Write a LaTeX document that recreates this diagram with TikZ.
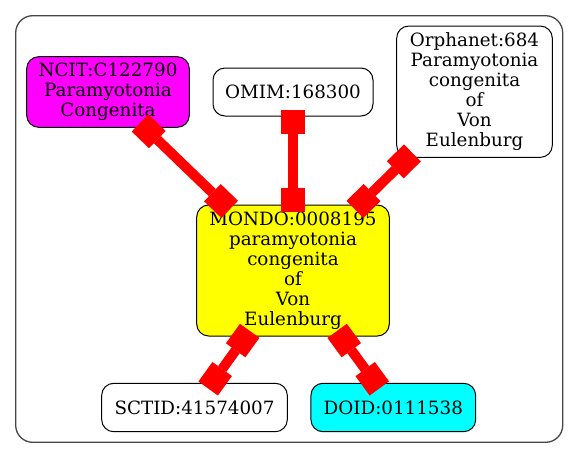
\documentclass[tikz,border=0pt]{standalone}
\usepackage{fontspec}
\setmainfont{DejaVu Serif}
\usetikzlibrary{arrows.meta}
\definecolor{pmagenta}{RGB}{255,0,255}
\definecolor{pcyan}{RGB}{0,255,255}
\definecolor{pyellow}{RGB}{255,255,0}
\definecolor{pred}{RGB}{255,0,0}
\definecolor{pgrey}{RGB}{70,70,70}
\tikzset{
  termbox/.style={draw=black, line width=1pt, rounded corners=12pt, inner sep=0pt,
    align=center, font=\fontsize{18.3}{20}\selectfont},
  linkedge/.style={draw=pred, line width=10pt,
    {Square[length=24pt,width=24pt,line width=0pt]}-{Square[length=24pt,width=24pt,line width=0pt]},
    shorten <=-7pt, shorten >=-7pt},
  clusterbox/.style={draw=pgrey, line width=1.3pt, rounded corners=17pt}
}
\begin{document}
\begin{tikzpicture}[x=1pt,y=-1pt]
\useasboundingbox (0,0) rectangle (579,459);
\draw[clusterbox] (15.7,15.7) rectangle (562.7,442.3);
\node[termbox, fill=pmagenta, minimum width=162.6pt, minimum height=70.6pt] (ncit) at (108,92) {NCIT:C122790\\Paramyotonia\\Congenita};
\node[termbox, fill=white, minimum width=160pt, minimum height=48pt] (omim) at (293,92) {OMIM:168300};
\node[termbox, fill=white, minimum width=155.6pt, minimum height=131.3pt] (orpha) at (474.5,91.7) {Orphanet:684\\Paramyotonia\\congenita\\of\\Von\\Eulenburg};
\node[termbox, fill=pyellow, minimum width=192.6pt, minimum height=131pt] (mondo) at (293,270.5) {MONDO:0008195\\paramyotonia\\congenita\\of\\Von\\Eulenburg};
\node[termbox, fill=white, minimum width=185.6pt, minimum height=48.4pt] (sctid) at (194.5,407.5) {SCTID:41574007};
\node[termbox, fill=pcyan, minimum width=164.7pt, minimum height=48.4pt] (doid) at (393.3,407.5) {DOID:0111538};
\draw[linkedge] (ncit) -- (mondo);
\draw[linkedge] (omim) -- (mondo);
\draw[linkedge] (orpha) -- (mondo);
\draw[linkedge] (mondo) -- (sctid);
\draw[linkedge] (mondo) -- (doid);
\end{tikzpicture}
\end{document}
